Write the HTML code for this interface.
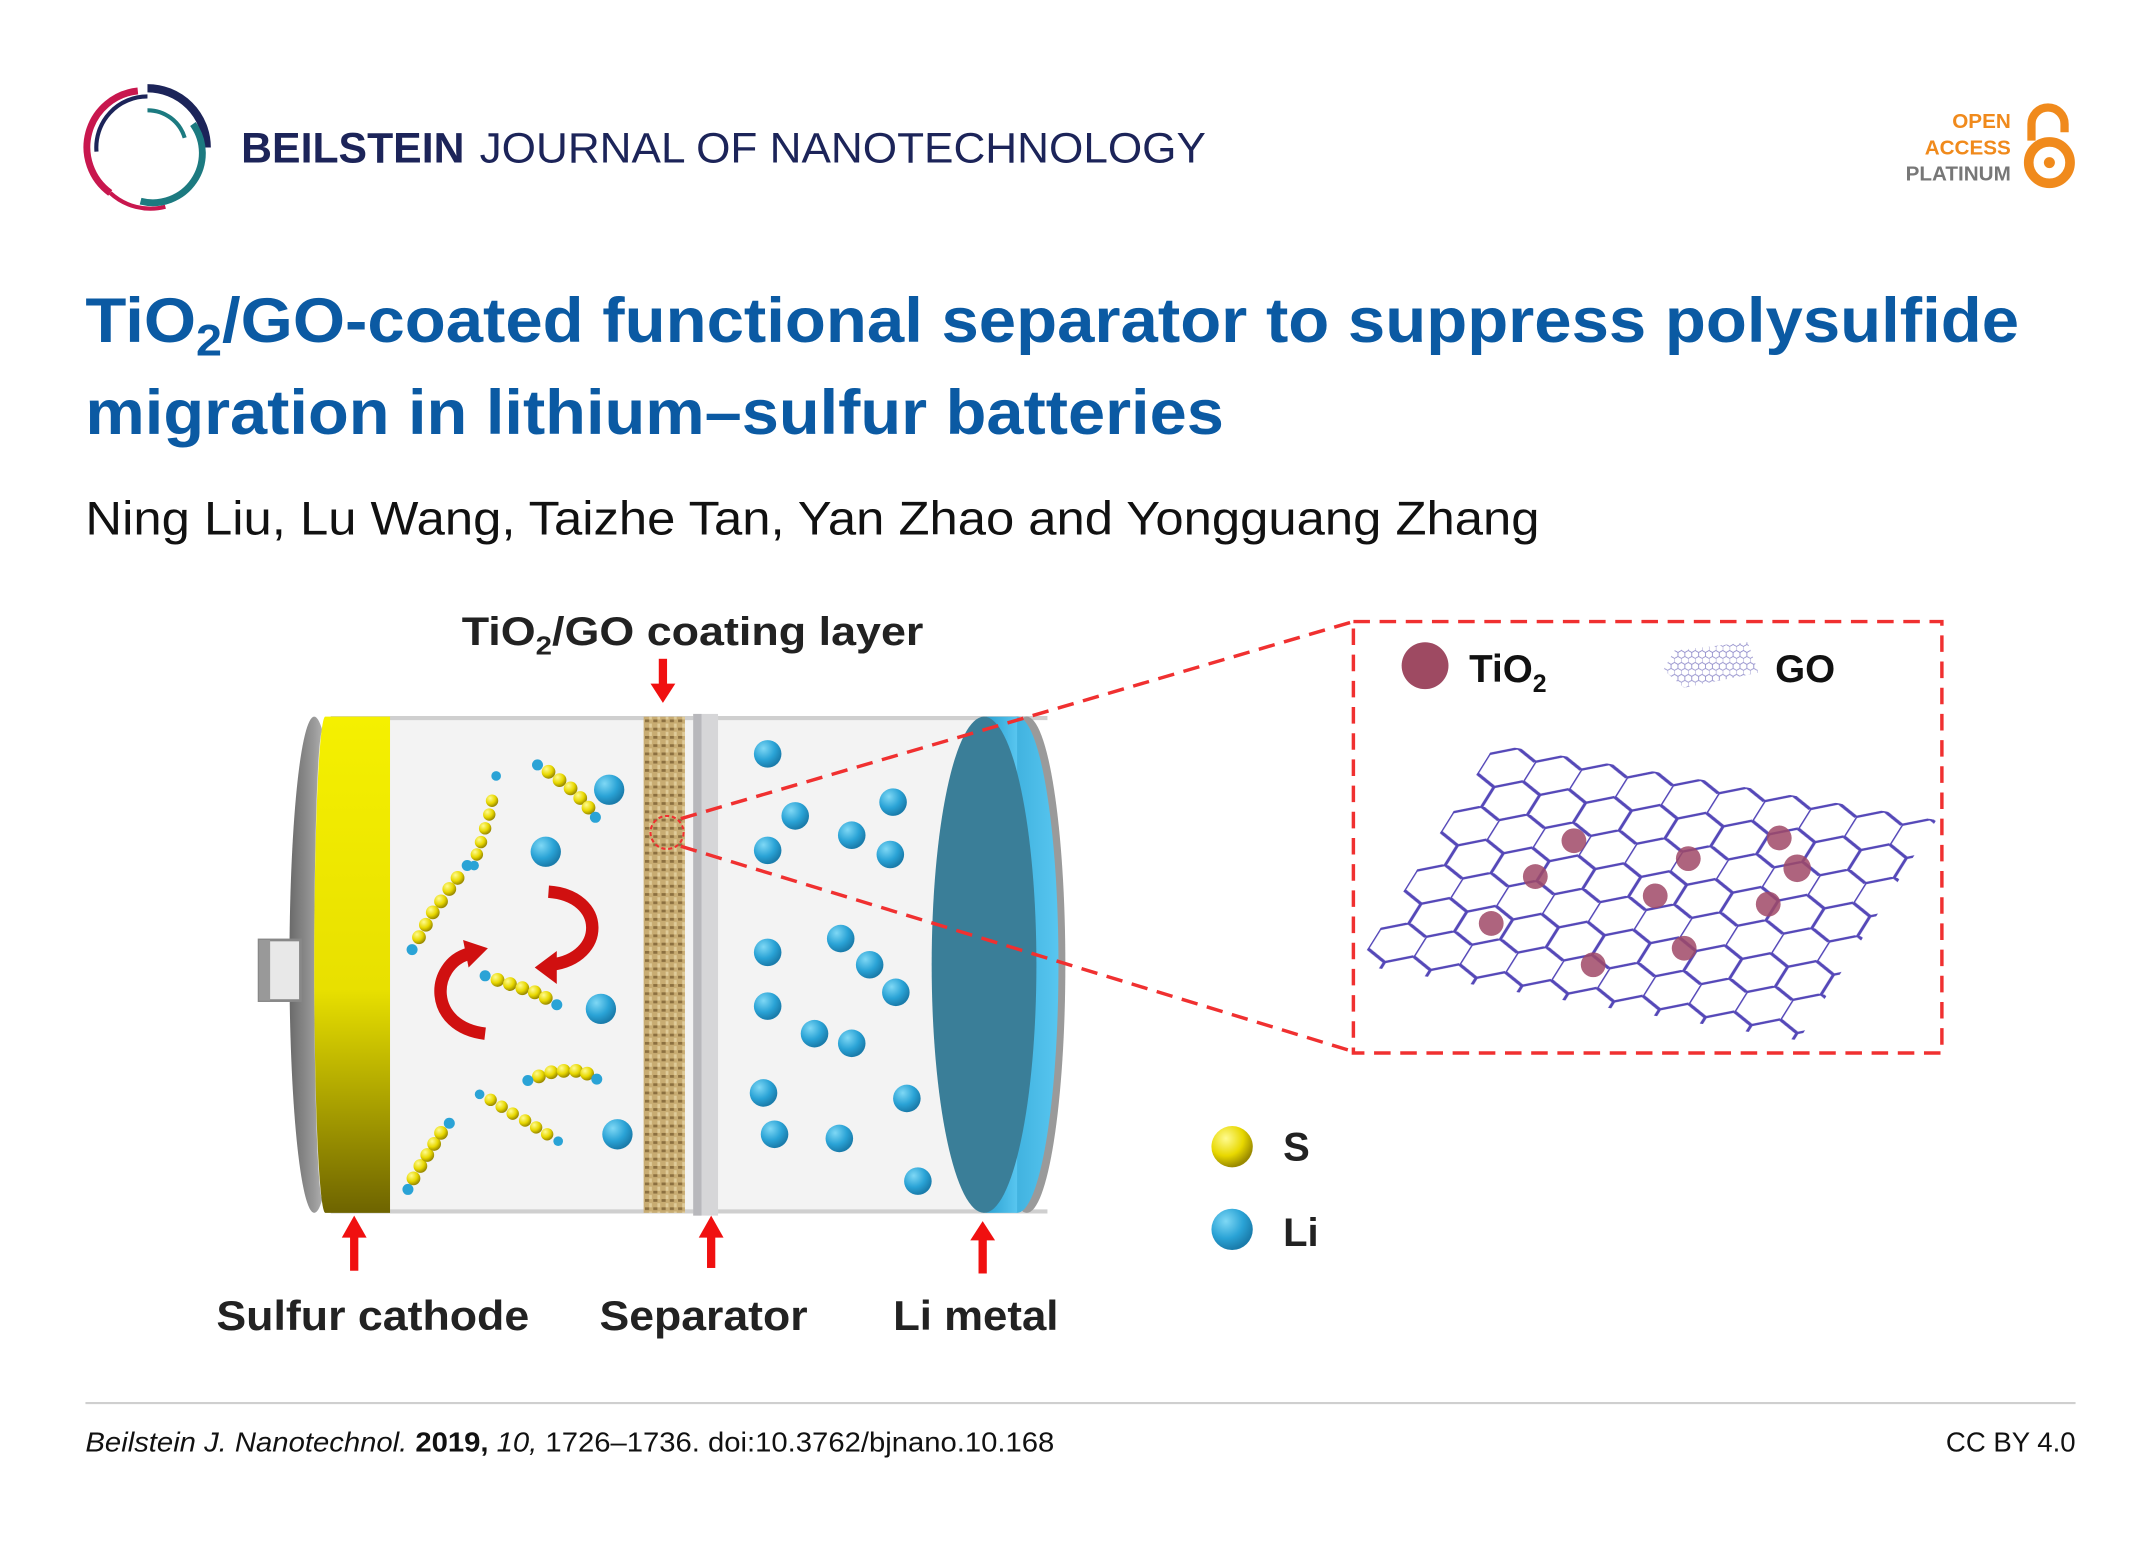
<!DOCTYPE html>
<html><head><meta charset="utf-8"><style>
html,body{margin:0;padding:0;background:#fff;width:2150px;height:1545px;overflow:hidden}
svg{display:block}
text{font-family:"Liberation Sans",Arial,sans-serif}
</style></head><body>
<svg width="2150" height="1545" viewBox="0 0 1560 1121" preserveAspectRatio="none" xmlns="http://www.w3.org/2000/svg">
<defs>
<linearGradient id="yel" x1="0" y1="0" x2="0" y2="1"><stop offset="0" stop-color="#f5f000"/><stop offset="0.55" stop-color="#e8e000"/><stop offset="1" stop-color="#6e6400"/></linearGradient>
<linearGradient id="rim" x1="0" y1="0" x2="1" y2="0"><stop offset="0" stop-color="#6a6a6a"/><stop offset="0.5" stop-color="#9a9a9a"/><stop offset="1" stop-color="#d8d8d8"/></linearGradient>
<linearGradient id="lib" x1="0" y1="0" x2="1" y2="0"><stop offset="0" stop-color="#2aa0d0"/><stop offset="1" stop-color="#58c6f0"/></linearGradient>
<radialGradient id="ball" cx="0.35" cy="0.3" r="0.7"><stop offset="0" stop-color="#7fd8f5"/><stop offset="0.6" stop-color="#2aa3d6"/><stop offset="1" stop-color="#1a7cab"/></radialGradient>
<radialGradient id="sball" cx="0.35" cy="0.3" r="0.7"><stop offset="0" stop-color="#fffb90"/><stop offset="0.6" stop-color="#e8d800"/><stop offset="1" stop-color="#9a8a00"/></radialGradient>
<pattern id="tex" width="6" height="6" patternUnits="userSpaceOnUse"><rect width="6" height="6" fill="#c8ac72"/><rect x="0" y="0" width="3" height="2" fill="#8c7040"/><rect x="3" y="3" width="2" height="3" fill="#e0cc9a"/></pattern>
<pattern id="hex" width="17.32" height="30" patternUnits="userSpaceOnUse" patternTransform="scale(1.5)">
<path d="M0 5 L8.66 0 L17.32 5 M0 5 L0 15 L8.66 20 L17.32 15 M8.66 20 L8.66 30" fill="none" stroke="#5548b8" stroke-width="1.2"/>
</pattern>
<pattern id="hexs" width="5" height="8.66" patternUnits="userSpaceOnUse"><path d="M0 1.4 L2.5 0 L5 1.4 M0 1.4 L0 4.3 L2.5 5.8 L5 4.3 M2.5 5.8 L2.5 8.66" fill="none" stroke="#8c88c8" stroke-width="0.6"/></pattern>
</defs>

<!-- Logo -->
<path d="M107 64 A43 43 0 0 1 150 107" fill="none" stroke="#1c2459" stroke-width="6"/>
<path d="M100 66 A41 41 0 0 0 80 140" fill="none" stroke="#c8174e" stroke-width="5"/>
<path d="M80 140 A43 43 0 0 0 120 150" fill="none" stroke="#c8174e" stroke-width="3"/>
<path d="M140 90 A36 36 0 0 1 102 146" fill="none" stroke="#1c7a80" stroke-width="5"/>
<path d="M107 80 A28 28 0 0 1 134 100" fill="none" stroke="#1c7a80" stroke-width="3"/>
<path d="M70 110 A37 37 0 0 1 107 70" fill="none" stroke="#1c2459" stroke-width="3"/>
<text x="175" y="118" font-size="31" font-weight="bold" fill="#1c2459" textLength="162" lengthAdjust="spacingAndGlyphs">BEILSTEIN</text>
<text x="348" y="118" font-size="31" fill="#1c2459" textLength="527" lengthAdjust="spacingAndGlyphs">JOURNAL OF NANOTECHNOLOGY</text>

<!-- Open access -->
<text x="1459" y="93" font-size="15" font-weight="bold" fill="#f08a1c" text-anchor="end">OPEN</text>
<text x="1459" y="112" font-size="15" font-weight="bold" fill="#f08a1c" text-anchor="end">ACCESS</text>
<text x="1459" y="131" font-size="15" font-weight="bold" fill="#777" text-anchor="end">PLATINUM</text>
<path d="M1474 102 V90 A12 12 0 0 1 1498 90 V96" fill="none" stroke="#f08a1c" stroke-width="6"/>
<circle cx="1487" cy="118" r="15" fill="none" stroke="#f08a1c" stroke-width="7"/>
<circle cx="1487" cy="118" r="4" fill="#f08a1c"/>

<!-- Title -->
<text x="62" y="248" font-size="46" font-weight="bold" fill="#0b5aa3" textLength="1403" lengthAdjust="spacingAndGlyphs">TiO<tspan font-size="32" dy="10">2</tspan><tspan dy="-10">/GO-coated functional separator to suppress polysulfide</tspan></text>
<text x="62" y="315" font-size="46" font-weight="bold" fill="#0b5aa3" textLength="826" lengthAdjust="spacingAndGlyphs">migration in lithium–sulfur batteries</text>
<text x="62" y="388" font-size="34" fill="#111" textLength="1055" lengthAdjust="spacingAndGlyphs">Ning Liu, Lu Wang, Taizhe Tan, Yan Zhao and Yongguang Zhang</text>

<!-- Battery -->
<text x="335" y="468" font-size="29" font-weight="bold" fill="#222" textLength="335" lengthAdjust="spacingAndGlyphs">TiO<tspan font-size="19" dy="7">2</tspan><tspan dy="-7">/GO coating layer</tspan></text>
<rect x="240" y="520" width="470" height="360" fill="#f3f3f3"/>
<line x1="240" y1="521" x2="760" y2="521" stroke="#cfcfcf" stroke-width="3"/>
<line x1="240" y1="879" x2="760" y2="879" stroke="#cfcfcf" stroke-width="3"/>
<ellipse cx="228" cy="700" rx="18" ry="180" fill="url(#rim)"/>
<ellipse cx="234" cy="700" rx="6" ry="170" fill="#f4f4f4"/>
<rect x="188" y="682" width="30" height="44" fill="#e8e8e8" stroke="#888" stroke-width="2"/>
<rect x="188" y="682" width="8" height="44" fill="#999"/>
<path d="M236 520 H283 V880 H236 A8 180 0 0 1 236 520 Z" fill="url(#yel)"/>
<rect x="467" y="520" width="30" height="360" fill="url(#tex)"/>
<rect x="503" y="518" width="18" height="364" fill="#d6d6d8"/>
<rect x="503" y="518" width="6" height="364" fill="#b8b8bc"/>
<!-- Li metal -->
<ellipse cx="745" cy="700" rx="28" ry="180" fill="#9a9a9a"/>
<ellipse cx="738" cy="700" rx="30" ry="180" fill="url(#lib)"/>
<rect x="715" y="520" width="23" height="360" fill="url(#lib)"/>
<ellipse cx="714" cy="700" rx="38" ry="180" fill="#3a7e98"/>

<g fill="url(#ball)">
<circle cx="557" cy="547" r="10"/><circle cx="577" cy="592" r="10"/><circle cx="618" cy="606" r="10"/><circle cx="648" cy="582" r="10"/>
<circle cx="557" cy="617" r="10"/><circle cx="646" cy="620" r="10"/><circle cx="557" cy="691" r="10"/><circle cx="610" cy="681" r="10"/>
<circle cx="631" cy="700" r="10"/><circle cx="650" cy="720" r="10"/><circle cx="557" cy="730" r="10"/><circle cx="591" cy="750" r="10"/>
<circle cx="618" cy="757" r="10"/><circle cx="554" cy="793" r="10"/><circle cx="658" cy="797" r="10"/><circle cx="562" cy="823" r="10"/>
<circle cx="609" cy="826" r="10"/><circle cx="666" cy="857" r="10"/>
<circle cx="442" cy="573" r="11"/><circle cx="396" cy="618" r="11"/><circle cx="436" cy="732" r="11"/><circle cx="448" cy="823" r="11"/>
</g>
<g fill="url(#sball)">
<circle cx="304" cy="680" r="5"/><circle cx="309" cy="671" r="5"/><circle cx="314" cy="662" r="5"/><circle cx="320" cy="654" r="5"/><circle cx="326" cy="645" r="5"/><circle cx="332" cy="637" r="5"/>
<circle cx="346" cy="620" r="4.5"/><circle cx="349" cy="611" r="4.5"/><circle cx="352" cy="601" r="4.5"/><circle cx="355" cy="591" r="4.5"/><circle cx="357" cy="581" r="4.5"/>
<circle cx="398" cy="560" r="5"/><circle cx="406" cy="566" r="5"/><circle cx="414" cy="572" r="5"/><circle cx="421" cy="579" r="5"/><circle cx="427" cy="586" r="5"/>
<circle cx="361" cy="711" r="5"/><circle cx="370" cy="714" r="5"/><circle cx="379" cy="717" r="5"/><circle cx="388" cy="720" r="5"/><circle cx="396" cy="724" r="5"/>
<circle cx="391" cy="781" r="5"/><circle cx="400" cy="778" r="5"/><circle cx="409" cy="777" r="5"/><circle cx="418" cy="777" r="5"/><circle cx="426" cy="779" r="5"/>
<circle cx="356" cy="798" r="4.5"/><circle cx="364" cy="803" r="4.5"/><circle cx="372" cy="808" r="4.5"/><circle cx="381" cy="813" r="4.5"/><circle cx="389" cy="818" r="4.5"/><circle cx="397" cy="823" r="4.5"/>
<circle cx="300" cy="855" r="5"/><circle cx="305" cy="846" r="5"/><circle cx="310" cy="838" r="5"/><circle cx="315" cy="830" r="5"/><circle cx="320" cy="822" r="5"/>
</g>
<g fill="#2aa3d6">
<circle cx="299" cy="689" r="4"/><circle cx="339" cy="628" r="4"/><circle cx="344" cy="628" r="3.5"/><circle cx="360" cy="563" r="3.5"/>
<circle cx="390" cy="555" r="4"/><circle cx="432" cy="593" r="4"/><circle cx="352" cy="708" r="4"/><circle cx="404" cy="729" r="4"/>
<circle cx="383" cy="784" r="4"/><circle cx="433" cy="783" r="4"/><circle cx="348" cy="794" r="3.5"/><circle cx="405" cy="828" r="3.5"/>
<circle cx="296" cy="863" r="4"/><circle cx="326" cy="815" r="4"/>
</g>
<path d="M398 647 C440 650 440 695 400 700" fill="none" stroke="#d01010" stroke-width="9"/>
<polygon points="388,702 404,690 404,714" fill="#d01010"/>
<path d="M352 750 C310 745 312 700 340 692" fill="none" stroke="#d01010" stroke-width="9"/>
<polygon points="354,688 336,682 340,702" fill="#d01010"/>

<g fill="#f01010">
<rect x="478" y="478" width="6" height="20"/><polygon points="472,496 490,496 481,510"/>
<rect x="254" y="896" width="6" height="26"/><polygon points="248,898 266,898 257,882"/>
<rect x="513" y="896" width="6" height="24"/><polygon points="507,898 525,898 516,882"/>
<rect x="710" y="898" width="6" height="26"/><polygon points="704,900 722,900 713,886"/>
</g>
<g font-size="30" font-weight="bold" fill="#222">
<text x="157" y="965" textLength="227" lengthAdjust="spacingAndGlyphs">Sulfur cathode</text>
<text x="435" y="965" textLength="151" lengthAdjust="spacingAndGlyphs">Separator</text>
<text x="648" y="965" textLength="120" lengthAdjust="spacingAndGlyphs">Li metal</text>
</g>
<circle cx="894" cy="832" r="15" fill="url(#sball)"/>
<circle cx="894" cy="892" r="15" fill="url(#ball)"/>
<text x="931" y="842" font-size="29" font-weight="bold" fill="#222">S</text>
<text x="931" y="904" font-size="29" font-weight="bold" fill="#222">Li</text>

<circle cx="484" cy="604" r="12" fill="none" stroke="#f03030" stroke-width="1.5" stroke-dasharray="3 2"/>
<line x1="494" y1="594" x2="982" y2="451" stroke="#f03030" stroke-width="2.5" stroke-dasharray="12 7"/>
<line x1="494" y1="614" x2="982" y2="763" stroke="#f03030" stroke-width="2.5" stroke-dasharray="12 7"/>
<rect x="982" y="451" width="427" height="313" fill="none" stroke="#f03030" stroke-width="2.5" stroke-dasharray="12 7"/>

<circle cx="1034" cy="483" r="17" fill="#9e4a62"/>
<text x="1066" y="495" font-size="28" font-weight="bold" fill="#111">TiO<tspan font-size="18" dy="7">2</tspan></text>
<polygon points="1215,472 1268,466 1276,488 1222,499 1207,486" fill="url(#hexs)"/>
<text x="1288" y="495" font-size="28" font-weight="bold" fill="#111">GO</text>
<g transform="matrix(1.28 0.22 -0.588 0.941 1085 540)">
<rect x="0" y="0" width="250" height="170" fill="url(#hex)"/>
</g>
<g fill="#a04a68" opacity="0.85">
<circle cx="1142" cy="610" r="9"/><circle cx="1225" cy="623" r="9"/><circle cx="1291" cy="608" r="9"/><circle cx="1304" cy="630" r="10"/>
<circle cx="1114" cy="636" r="9"/><circle cx="1201" cy="650" r="9"/><circle cx="1283" cy="656" r="9"/><circle cx="1082" cy="670" r="9"/>
<circle cx="1222" cy="688" r="9"/><circle cx="1156" cy="700" r="9"/>
</g>

<line x1="62" y1="1018" x2="1506" y2="1018" stroke="#cfcfcf" stroke-width="1.5"/>
<text x="62" y="1053" font-size="20" fill="#111" textLength="703" lengthAdjust="spacingAndGlyphs"><tspan font-style="italic">Beilstein J. Nanotechnol.</tspan> <tspan font-weight="bold">2019,</tspan> <tspan font-style="italic">10,</tspan> 1726–1736. doi:10.3762/bjnano.10.168</text>
<text x="1506" y="1053" font-size="20" fill="#111" text-anchor="end">CC BY 4.0</text>
</svg>
</body></html>
